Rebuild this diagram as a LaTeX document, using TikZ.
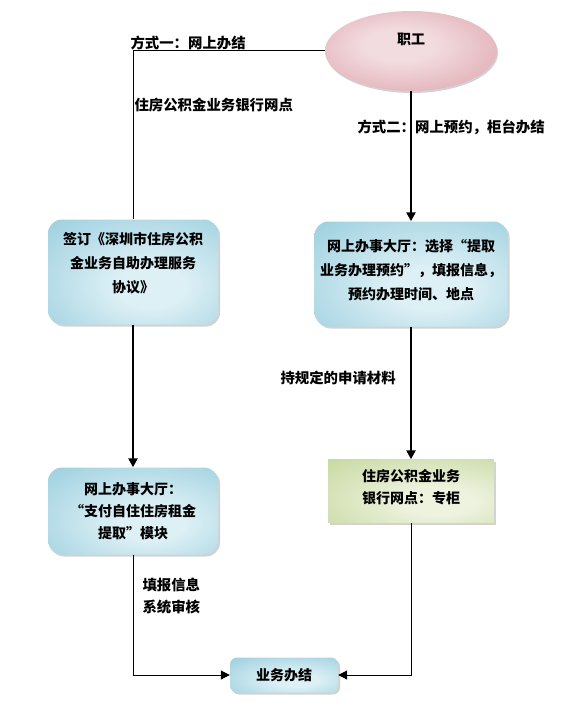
\documentclass[tikz,border=0pt]{standalone}
\usepackage{fontspec}
\setmainfont{Noto Sans CJK SC}[BoldFont={Noto Sans CJK SC Black}]
\usetikzlibrary{shapes.geometric,shadows,arrows.meta}

\definecolor{pinkLight}{HTML}{F2DCE0}
\definecolor{pinkDark}{HTML}{D8979F}
\definecolor{blueLight}{HTML}{DDF0F5}
\definecolor{blueDark}{HTML}{8CC7D9}
\definecolor{greenLight}{HTML}{EEF3E0}
\definecolor{greenDark}{HTML}{BFD393}

% soft glow: light in the middle, darker towards the rim
\pgfdeclareradialshading{pinkglow}{\pgfpoint{-4bp}{4bp}}{color(0bp)=(pinkLight); color(10bp)=(pinkLight); color(44bp)=(pinkDark); color(70bp)=(pinkDark)}
\pgfdeclareradialshading{blueglow}{\pgfpoint{6bp}{-8bp}}{color(0bp)=(blueLight); color(10bp)=(blueLight); color(48bp)=(blueDark); color(80bp)=(blueDark)}
\pgfdeclareradialshading{greenglow}{\pgfpoint{10bp}{-10bp}}{color(0bp)=(greenLight); color(10bp)=(greenLight); color(50bp)=(greenDark); color(80bp)=(greenDark)}

\tikzset{
    boxtext/.style={font=\bfseries\fontsize{14}{24}\selectfont, align=center},
    bluebox/.style={boxtext, rounded corners=14pt, shading=blueglow,
        drop shadow={shadow xshift=2pt, shadow yshift=-2pt, fill=gray!70}},
    greenbox/.style={boxtext, shading=greenglow,
        drop shadow={shadow xshift=2pt, shadow yshift=-2pt, fill=gray!70}},
    steplabel/.style={font=\bfseries\fontsize{14.4}{22}\selectfont, align=left, anchor=west},
    thickarrow/.style={line width=2.6pt, -{Triangle[length=9pt,width=9pt]}},
    thinarrow/.style={line width=1pt, -{Triangle[length=9pt,width=9pt]}},
}

\begin{document}
\begin{tikzpicture}[x=1pt, y=-1pt]
    \useasboundingbox (0,0) rectangle (562,709);
    % the starting ellipse
    \node[ellipse, minimum width=172pt, minimum height=80pt, shading=pinkglow,
        drop shadow={shadow xshift=1pt, shadow yshift=-2pt, fill=gray!70},
        font=\bfseries\fontsize{14}{16}\selectfont, text height=10pt, text depth=22pt]
        (worker) at (411,51) {职工};
    % the boxes of the two ways (an empty last row lifts the text a little)
    \node[bluebox, minimum width=170pt, minimum height=105pt] (sign) at (133,272)
        {签订《深圳市住房公积\\金业务自助办理服务\\协议》\\[-4pt]{}};
    \node[bluebox, minimum width=193pt, minimum height=105pt] (hall) at (411,274)
        {网上办事大厅：选择“提取\\业务办理预约”，填报信息，\\预约办理时间、地点\\[-14pt]{}};
    \node[bluebox, minimum width=170pt, minimum height=87pt,
        font=\bfseries\fontsize{14}{22}\selectfont] (module) at (133,511)
        {网上办事大厅：\\“支付自住住房租金\\提取”模块};
    \node[greenbox, minimum width=166pt, minimum height=63pt,
        font=\bfseries\fontsize{14}{22}\selectfont] (counter) at (411,491)
        {住房公积金业务\\银行网点：专柜\\[-12pt]{}};
    \node[bluebox, rounded corners=7pt, minimum width=108pt, minimum height=35pt] (done) at (284,675) {业务办结};
    % way one goes left, way two goes down
    \draw[line width=1pt] (worker.west) -- (worker.west -| sign.north) -- (sign.north);
    \foreach \a/\b in {worker/hall,sign/module,hall/counter}{%
        \draw[thickarrow] (\a) -- (\b);
    }
    \draw[thinarrow] (module.south) |- (done.west);
    \draw[thinarrow] (counter.south) |- (done.east);
    % labels along the lines
    \node[steplabel] (wayone) at (127,43) {方式一：网上办结};
    \node[steplabel] (bankone) at (131,105) {住房公积金业务银行网点};
    \node[steplabel] (waytwo) at (354,127) {方式二：网上预约，柜台办结};
    \node[steplabel] (papers) at (277,378) {持规定的申请材料};
    \node[steplabel] (check) at (139,596) {填报信息\\系统审核};
\end{tikzpicture}
\end{document}
